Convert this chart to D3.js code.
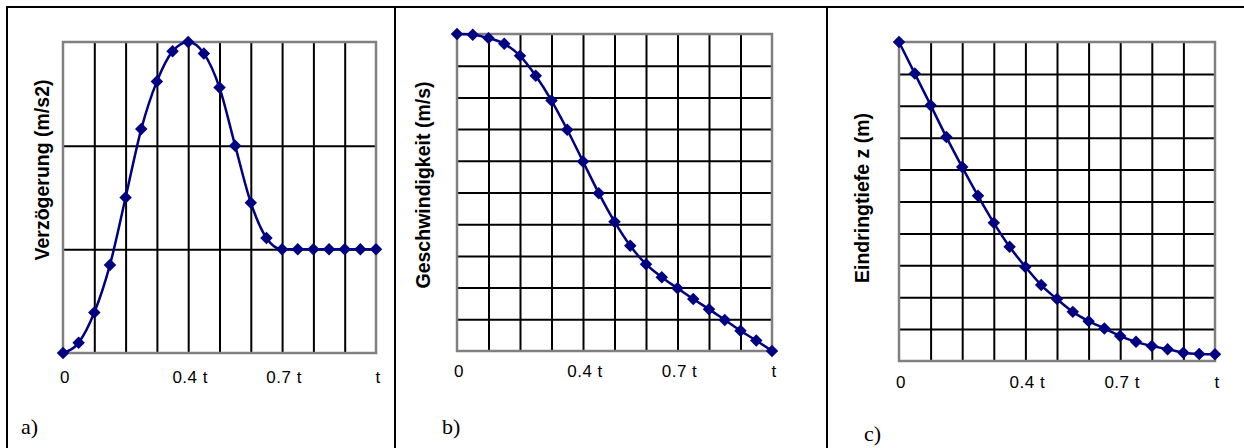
<!DOCTYPE html>
<html>
<head>
<meta charset="utf-8">
<script src="https://cdn.jsdelivr.net/npm/d3@7"></script>
<style>
  body { margin: 0; background: #fff; }
  svg { display: block; }
  .tick-label { font-family: "Liberation Sans", Arial, sans-serif; font-size: 17px; fill: #000; letter-spacing: 0.5px; }
  .y-title { font-family: "Liberation Sans", Arial, sans-serif; font-size: 19.5px; font-weight: bold; fill: #000; }
  .panel-label { font-family: "Liberation Serif", "Times New Roman", serif; font-size: 22px; fill: #000; }
</style>
</head>
<body>
<script>
// time steps (fraction of t)
const tValues = [0, 0.05, 0.1, 0.15, 0.2, 0.25, 0.3, 0.35, 0.4, 0.45, 0.5,
                 0.55, 0.6, 0.65, 0.7, 0.75, 0.8, 0.85, 0.9, 0.95, 1];

// a) Verzögerung
const decel = [0, 0.1, 0.39, 0.85, 1.5, 2.16, 2.62, 2.91, 3.0, 2.89, 2.56,
               2.0, 1.45, 1.11, 1.0, 1.0, 1.0, 1.0, 1.0, 1.0, 1.0];
// b) Geschwindigkeit
const speed = [10, 9.98, 9.87, 9.69, 9.31, 8.68, 7.9, 6.98, 5.98, 4.98, 4.08,
               3.32, 2.74, 2.33, 1.98, 1.64, 1.32, 0.98, 0.64, 0.33, 0];
// c) Eindringtiefe
const depth = [10, 9.01, 8.02, 7.02, 6.08, 5.18, 4.33, 3.58, 2.95, 2.38, 1.94,
               1.54, 1.25, 1.02, 0.78, 0.6, 0.47, 0.37, 0.26, 0.22, 0.21];

const xTickValues = [0, 0.4, 0.7, 1];
const xTickLabels = ["0", "0.4 t", "0.7 t", "t"];
const xGrid = [0.1, 0.2, 0.3, 0.4, 0.5, 0.6, 0.7, 0.8, 0.9];

const width = 1244, height = 448;
const svg = d3.select("body").append("svg").attr("width", width).attr("height", height);

// table frame
const frame = svg.append("g").attr("stroke", "#000").attr("stroke-width", 2);
frame.append("line").attr("x1", 6).attr("x2", width).attr("y1", 7).attr("y2", 7);
[7, 395, 827].forEach(x => {
  frame.append("line").attr("x1", x).attr("x2", x).attr("y1", 6).attr("y2", height);
});

const panels = [
  { label: "a)", lx: 21, ly: 434, title: "Verzögerung (m/s2)", tx: 42, ty: 170,
    x0: 63, x1: 376, y0: 42, y1: 353, ymax: 3, yGrid: [1, 2], values: decel, labelY: 383 },
  { label: "b)", lx: 442, ly: 434, title: "Geschwindigkeit (m/s)", tx: 423, ty: 185,
    x0: 457, x1: 772, y0: 34, y1: 351, ymax: 10, yGrid: [1, 2, 3, 4, 5, 6, 7, 8, 9], values: speed, labelY: 377 },
  { label: "c)", lx: 864, ly: 441, title: "Eindringtiefe z (m)", tx: 862, ty: 198,
    x0: 899, x1: 1215, y0: 42, y1: 361, ymax: 10, yGrid: [1, 2, 3, 4, 5, 6, 7, 8, 9], values: depth, labelY: 388 }
];

panels.forEach(p => {
  const g = svg.append("g");
  const x = d3.scaleLinear().domain([0, 1]).range([p.x0, p.x1]);
  const y = d3.scaleLinear().domain([0, p.ymax]).range([p.y1, p.y0]);

  // grid lines via axes
  g.append("g")
    .attr("transform", "translate(0," + p.y1 + ")")
    .call(d3.axisBottom(x).tickValues(xGrid).tickSize(-(p.y1 - p.y0)).tickFormat(""))
    .call(s => s.select(".domain").remove())
    .call(s => s.selectAll("line").attr("stroke", "#000").attr("stroke-width", 2));

  g.append("g")
    .attr("transform", "translate(" + p.x0 + ",0)")
    .call(d3.axisLeft(y).tickValues(p.yGrid).tickSize(-(p.x1 - p.x0)).tickFormat(""))
    .call(s => s.select(".domain").remove())
    .call(s => s.selectAll("line").attr("stroke", "#000").attr("stroke-width", 2));

  // plot area border
  g.append("rect")
    .attr("x", p.x0).attr("y", p.y0)
    .attr("width", p.x1 - p.x0).attr("height", p.y1 - p.y0)
    .attr("fill", "none").attr("stroke", "#808080").attr("stroke-width", 2.5);

  // x labels
  g.selectAll(".tick-label")
    .data(xTickValues)
    .enter()
    .append("text")
    .attr("class", "tick-label")
    .attr("x", d => x(d) + 2)
    .attr("y", p.labelY)
    .attr("text-anchor", "middle")
    .text((d, i) => xTickLabels[i]);

  // y title
  g.append("text")
    .attr("class", "y-title")
    .attr("transform", "translate(" + p.tx + "," + p.ty + ") rotate(-90)")
    .attr("text-anchor", "middle")
    .attr("dominant-baseline", "central")
    .text(p.title);

  // panel label
  g.append("text")
    .attr("class", "panel-label")
    .attr("x", p.lx).attr("y", p.ly)
    .text(p.label);

  const pts = tValues.map((t, i) => [t, p.values[i]]);

  g.append("path")
    .datum(pts)
    .attr("fill", "none")
    .attr("stroke", "#000080")
    .attr("stroke-width", 2.5)
    .attr("d", d3.line().x(d => x(d[0])).y(d => y(d[1])).curve(d3.curveMonotoneX));

  g.selectAll(".marker")
    .data(pts)
    .enter()
    .append("path")
    .attr("class", "marker")
    .attr("transform", d => "translate(" + x(d[0]) + "," + y(d[1]) + ") rotate(45)")
    .attr("d", d3.symbol(d3.symbolSquare, 78))
    .attr("fill", "#000080");
});
</script>
</body>
</html>
